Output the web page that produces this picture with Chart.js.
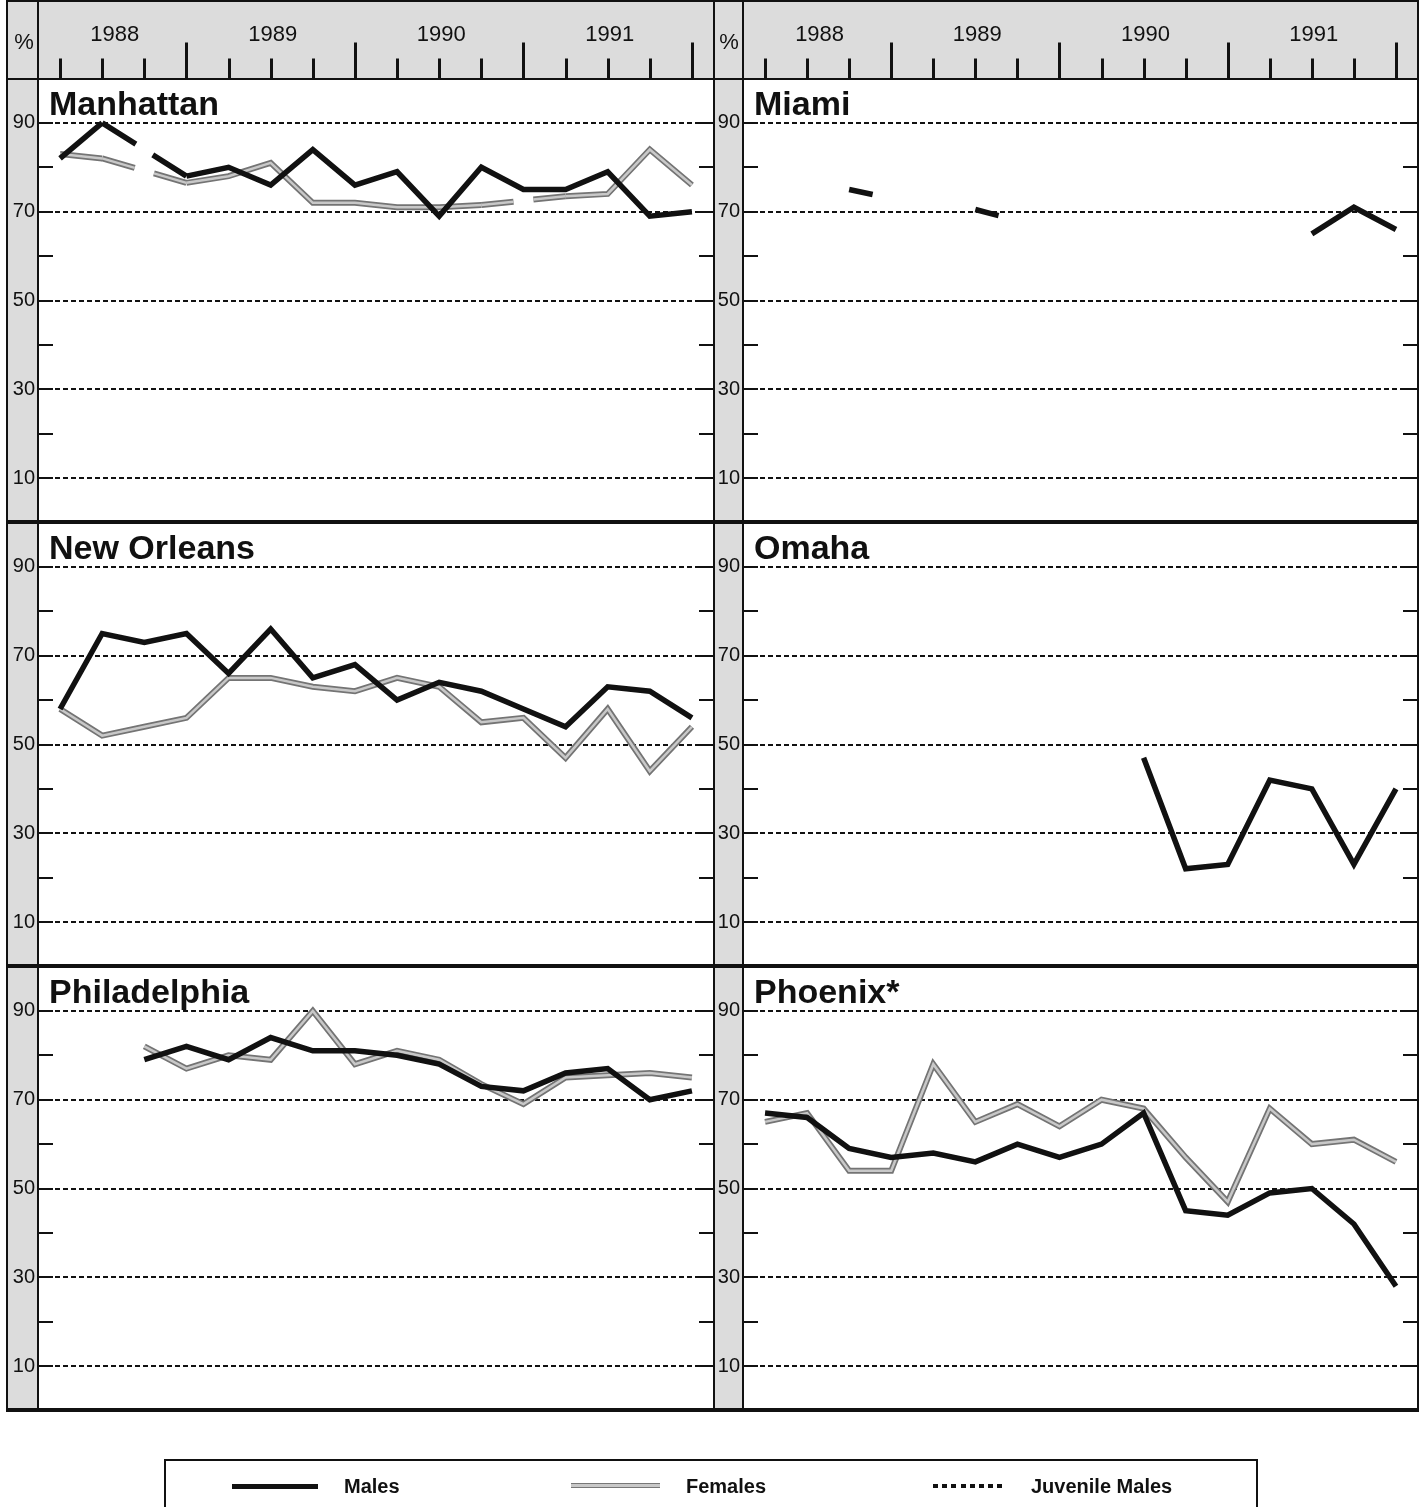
<!DOCTYPE html>
<html>
<head>
<meta charset="utf-8">
<title>Percent testing positive, 1988–1991</title>
<script src="https://cdn.jsdelivr.net/npm/chart.js@4.4.1/dist/chart.umd.min.js"></script>
<style>
  html, body { margin: 0; padding: 0; background: #fff; }
  #page {
    position: relative; width: 1421px; height: 1507px; overflow: hidden;
    background: #fff; font-family: "Liberation Sans", Arial, Helvetica, sans-serif; color: #111;
  }
  .fill { position: absolute; background: #dcdcdc; z-index: 0; }
  .rule { position: absolute; background: #111; z-index: 10; }
  canvas { position: absolute; left: 0; top: 0; }
  #legend {
    position: absolute; left: 164px; top: 1459px; width: 1090px; height: 80px;
    border: 2px solid #111; border-bottom: none; z-index: 10;
  }
  .swatch { position: absolute; top: 23px; }
  .lbl { position: absolute; top: 13px; height: 24px; line-height: 24px; font-size: 20px; font-weight: bold; }
</style>
</head>
<body>
<div id="page">
  <!-- shaded header band and tick-label strips -->
  <div class="fill" style="left:8px;top:2px;width:1409px;height:76px"></div>
  <div class="fill" style="left:8px;top:80px;width:29px;height:1328px"></div>
  <div class="fill" style="left:715px;top:80px;width:27px;height:1328px"></div>

  <!-- frame rules -->
  <div class="rule" style="left:6px;top:0;width:1413px;height:2px"></div>
  <div class="rule" style="left:6px;top:0;width:2px;height:1412px"></div>
  <div class="rule" style="left:1417px;top:0;width:2px;height:1412px"></div>
  <div class="rule" style="left:6px;top:78px;width:1413px;height:2px"></div>
  <div class="rule" style="left:6px;top:520px;width:1413px;height:4px"></div>
  <div class="rule" style="left:6px;top:964px;width:1413px;height:4px"></div>
  <div class="rule" style="left:6px;top:1408px;width:1413px;height:4px"></div>
  <div class="rule" style="left:37px;top:0;width:2px;height:1412px"></div>
  <div class="rule" style="left:713px;top:0;width:2px;height:1412px"></div>
  <div class="rule" style="left:742px;top:0;width:2px;height:1412px"></div>

  <div id="legend">
    <div class="swatch" style="left:66px;width:86px;height:5px;background:#111"></div>
    <div class="lbl" style="left:178px">Males</div>
    <div class="swatch" style="left:405px;width:89px;height:2.5px;background:#c8c8c8;border-top:1.75px solid #777;border-bottom:1.75px solid #777;top:22px"></div>
    <div class="lbl" style="left:520px">Females</div>
    <div class="swatch" style="left:767px;width:70px;height:4px;background:repeating-linear-gradient(90deg,#111 0,#111 5px,transparent 5px,transparent 9.2px)"></div>
    <div class="lbl" style="left:865px">Juvenile Males</div>
  </div>
</div>

<script>
// Quarterly observation periods shared by every panel
const quarters = [
  '1988 Q1', '1988 Q2', '1988 Q3', '1988 Q4',
  '1989 Q1', '1989 Q2', '1989 Q3', '1989 Q4',
  '1990 Q1', '1990 Q2', '1990 Q3', '1990 Q4',
  '1991 Q1', '1991 Q2', '1991 Q3', '1991 Q4'
];
const years = ['1988', '1989', '1990', '1991'];
const percentLabels = [10, 30, 50, 70, 90];

// Percent positive by site (null = no report for that quarter)
const manhattanMales     = [82, 90, null, 78, 80, 76, 84, 76, 79, 69, 80, 75, 75, 79, 69, 70];
const manhattanFemales   = [83, 82, null, 76.5, 78, 81, 72, 72, 71, 71, 71.5, null, 73.5, 74, 84, 76];
const miamiMales         = [null, null, 75, 73, null, 70.5, 68, null, null, null, null, null, null, 65, 71, 66];
const miamiFemales       = [null, null, null, null, null, null, null, null, null, null, null, null, null, null, null, null];
const newOrleansMales    = [58, 75, 73, 75, 66, 76, 65, 68, 60, 64, 62, 58, 54, 63, 62, 56];
const newOrleansFemales  = [58, 52, 54, 56, 65, 65, 63, 62, 65, 63, 55, 56, 47, 58, 44, 54];
const omahaMales         = [null, null, null, null, null, null, null, null, null, 47, 22, 23, 42, 40, 23, 40];
const omahaFemales       = [null, null, null, null, null, null, null, null, null, null, null, null, null, null, null, null];
const philadelphiaMales  = [null, null, 79, 82, 79, 84, 81, 81, 80, 78, 73, 72, 76, 77, 70, 72];
const philadelphiaFemales= [null, null, 82, 77, 80, 79, 90, 78, 81, 79, 73.5, 69, 75, 75.5, 76, 75];
const phoenixMales       = [67, 66, 59, 57, 58, 56, 60, 57, 60, 67, 45, 44, 49, 50, 42, 28];
const phoenixFemales     = [65, 67, 54, 54, 78, 65, 69, 64, 70, 68, 57, 47, 68, 60, 61, 56];

// Quarters after which the Miami male line is only drawn a short way
const miamiMalesStubs = [2, 5];

const INK = '#111';
const FONT = '"Liberation Sans", Arial, Helvetica, sans-serif';
const GAP_PX = 20;   // break left in a line where one quarter is missing
const STUB_PX = 24;  // length of a stub segment

Chart.defaults.font.family = FONT;

// Line segments that cross a missing quarter are drawn with a break in the
// middle; stub segments are drawn only part of the way to the next quarter.
function segmentDash(sc) {
  const chart = sc.chart;
  const ds = chart.data.datasets[sc.datasetIndex];
  const pts = chart.getDatasetMeta(sc.datasetIndex).data;
  if (ds.stubs && ds.stubs.includes(sc.p0DataIndex) && !sc.p0.skip && !sc.p1.skip) {
    const len = Math.hypot(sc.p1.x - sc.p0.x, sc.p1.y - sc.p0.y);
    return [STUB_PX, len + 20];
  }
  if (sc.p0.skip || sc.p1.skip) {
    let a = sc.p0DataIndex, b = sc.p1DataIndex;
    while (a > 0 && pts[a].skip) a--;
    while (b < pts.length - 1 && pts[b].skip) b++;
    const A = pts[a], B = pts[b];
    if (!A || !B || A.skip || B.skip) return undefined;
    const len = Math.hypot(B.x - A.x, B.y - A.y);
    return [len / 2 - GAP_PX / 2, GAP_PX, len + 20];
  }
  return undefined;
}

// Panel title, inward tick marks and (top row) the quarter/year header
const panelDecor = {
  id: 'panelDecor',
  afterDraw(chart, args, opts) {
    const { ctx, chartArea: a, scales: { x, y } } = chart;
    ctx.save();
    ctx.strokeStyle = INK;
    ctx.lineWidth = 2;
    ctx.beginPath();
    for (let v = 10; v < 100; v += 10) {
      const py = Math.round(y.getPixelForValue(v));
      ctx.moveTo(a.left, py); ctx.lineTo(a.left + 14, py);
      ctx.moveTo(a.right - 14, py); ctx.lineTo(a.right, py);
    }
    ctx.stroke();

    ctx.fillStyle = INK;
    ctx.font = 'bold 34px ' + FONT;
    ctx.textAlign = 'left';
    ctx.textBaseline = 'alphabetic';
    ctx.fillText(opts.title, a.left + 10, a.top + 36.5);

    if (opts.header) {
      const base = Math.round(a.top) + 0.5;
      ctx.lineWidth = 3;
      ctx.beginPath();
      quarters.forEach((q, i) => {
        const px = Math.round(x.getPixelForValue(i)) + 0.5;
        const major = q.endsWith('Q4');
        ctx.moveTo(px, base);
        ctx.lineTo(px, base - (major ? 37 : 21));
      });
      ctx.stroke();

      ctx.font = '22px ' + FONT;
      ctx.textAlign = 'center';
      ctx.textBaseline = 'middle';
      let prev = a.left;
      years.forEach(yr => {
        const end = x.getPixelForValue(quarters.indexOf(yr + ' Q4'));
        ctx.fillText(yr, (prev + end) / 2 + 2, 35);
        prev = end;
      });
      ctx.fillText('%', a.left - 15, 43);
    }
    ctx.restore();
  }
};

const panels = [
  { title: 'Manhattan',    males: manhattanMales,    females: manhattanFemales,    row: 0, col: 0, span: true },
  { title: 'Miami',        males: miamiMales,        females: miamiFemales,        row: 0, col: 1, stubs: miamiMalesStubs },
  { title: 'New Orleans',  males: newOrleansMales,   females: newOrleansFemales,   row: 1, col: 0 },
  { title: 'Omaha',        males: omahaMales,        females: omahaFemales,        row: 1, col: 1 },
  { title: 'Philadelphia', males: philadelphiaMales, females: philadelphiaFemales, row: 2, col: 0 },
  { title: 'Phoenix*',     males: phoenixMales,      females: phoenixFemales,      row: 2, col: 1 }
];

const PAGE_W = 1421, PAGE_H = 1507;
const ROW_TOP = 78.5, ROW_H = 444;
const COLS = [ { left: 39, right: 713 }, { left: 744, right: 1417 } ];
const AXIS_W = 32;

const page = document.getElementById('page');

panels.forEach((p, k) => {
  const canvas = document.createElement('canvas');
  canvas.width = PAGE_W; canvas.height = PAGE_H;
  canvas.style.width = PAGE_W + 'px'; canvas.style.height = PAGE_H + 'px';
  canvas.style.zIndex = String(1 + k);
  page.appendChild(canvas);

  const top = ROW_TOP + ROW_H * p.row;
  const col = COLS[p.col];
  const common = { tension: 0, pointRadius: 0, pointHoverRadius: 0, fill: false,
                   spanGaps: !!p.span, segment: { borderDash: segmentDash } };

  new Chart(canvas, {
    type: 'line',
    data: {
      labels: quarters,
      datasets: [
        Object.assign({ label: 'Males', data: p.males, borderColor: INK, borderWidth: 5.5,
                        stubs: p.stubs || null }, common),
        Object.assign({ label: 'Females', data: p.females, borderColor: '#c8c8c8', borderWidth: 2.5 }, common),
        Object.assign({ label: 'Females', data: p.females, borderColor: '#747474', borderWidth: 6 }, common)
      ]
    },
    options: {
      responsive: false,
      animation: false,
      devicePixelRatio: 1,
      events: [],
      layout: {
        padding: {
          left: col.left - AXIS_W,
          right: PAGE_W - col.right,
          top: top,
          bottom: PAGE_H - (top + ROW_H)
        }
      },
      plugins: {
        legend: { display: false },
        tooltip: { enabled: false },
        panelDecor: { title: p.title, header: p.row === 0 }
      },
      scales: {
        x: { type: 'category', offset: true, display: false },
        y: {
          min: 0, max: 100,
          position: 'left',
          afterFit(scale) { scale.width = AXIS_W; },
          ticks: {
            stepSize: 10, autoSkip: false, padding: 4,
            color: INK, font: { size: 20, family: FONT },
            callback: v => (percentLabels.includes(v) ? String(v) : '')
          },
          grid: {
            drawTicks: false,
            lineWidth: 2,
            color: c => (c.tick && percentLabels.includes(c.tick.value)) ? INK : 'rgba(0,0,0,0)'
          },
          border: { display: false, dash: [5, 3] }
        }
      }
    },
    plugins: [panelDecor]
  });
});
</script>
</body>
</html>
